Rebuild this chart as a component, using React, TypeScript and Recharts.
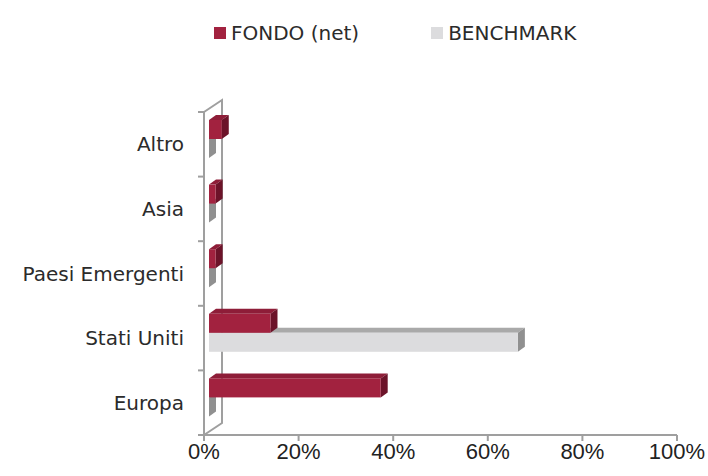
import { Bar, BarChart, XAxis, YAxis, usePlotArea } from 'recharts';

const regions = ['Altro', 'Asia', 'Paesi Emergenti', 'Stati Uniti', 'Europa'];
const fondo = [2.7, 1.4, 1.4, 13.0, 36.3];
const benchmark = [0, 0, 0, 65.3, 0];
const xTicks = [0, 20, 40, 60, 80, 100];
const seriesNames = ['FONDO (net)', 'BENCHMARK'];

const data = regions.map((region, i) => ({
  region,
  fondo: fondo[i],
  benchmark: benchmark[i],
}));

const AXIS = '#9F9F9F';
const LABEL_FONT = '"DejaVu Sans", sans-serif';
const TICK_FONT = '"Liberation Sans Narrow", "Liberation Sans", Arial, sans-serif';

// 3d look: front face pushed into the wall, extrusion towards the back
const FRONT = { dx: 5, dy: -5 };
const DEPTH = { dx: 7, dy: -5 };
const WALL = { dx: 18, dy: -12 };

const palettes = {
  fondo: { front: '#A2223F', top: '#8E1D38', side: '#6C1329' },
  benchmark: { front: '#DCDCDE', top: '#A9A9A9', side: '#909090' },
};

const makeBox = (pal: { front: string; top: string; side: string }) => (props: any) => {
  const { x, y, width, height } = props;
  if (x == null || y == null) return null;
  const x0 = x + FRONT.dx;
  const x1 = x0 + Math.max(width, 0);
  const yT = y + FRONT.dy;
  const yB = yT + height;
  const top = `${x0},${yT} ${x1},${yT} ${x1 + DEPTH.dx},${yT + DEPTH.dy} ${x0 + DEPTH.dx},${yT + DEPTH.dy}`;
  const side = `${x1},${yT} ${x1 + DEPTH.dx},${yT + DEPTH.dy} ${x1 + DEPTH.dx},${yB + DEPTH.dy} ${x1},${yB}`;
  return (
    <g>
      <polygon points={top} fill={pal.top} />
      <polygon points={side} fill={pal.side} />
      {width > 0 && <rect x={x0} y={yT} width={width} height={height} fill={pal.front} />}
    </g>
  );
};

const Wall = () => {
  const area = usePlotArea();
  if (!area) return null;
  const { x, y, height } = area;
  const d = `M${x},${y} L${x + WALL.dx},${y + WALL.dy} L${x + WALL.dx},${y + height + WALL.dy} L${x},${y + height}`;
  return <path d={d} fill='none' stroke={AXIS} strokeWidth={2} />;
};

const CategoryTick = (props: any) => {
  const { x, y, payload, index } = props;
  const half = payload?.offset ?? 32.3;
  const ax = x + 20;
  return (
    <g>
      <line x1={ax - 6} x2={ax} y1={y - half} y2={y - half} stroke={AXIS} strokeWidth={2} />
      {index === regions.length - 1 && (
        <line x1={ax - 6} x2={ax} y1={y + half} y2={y + half} stroke={AXIS} strokeWidth={2} />
      )}
      <text
        x={x}
        y={y}
        textAnchor='end'
        dominantBaseline='central'
        fill='#2b2b2b'
        fontFamily={LABEL_FONT}
        fontSize={20}
      >
        {payload.value}
      </text>
    </g>
  );
};

const Legend3d = () => (
  <div
    style={{
      position: 'absolute',
      top: 20,
      left: 214,
      display: 'flex',
      gap: 72,
      fontFamily: LABEL_FONT,
      fontSize: 20,
      color: '#2b2b2b',
      lineHeight: '26px',
    }}
  >
    {seriesNames.map((name, i) => (
      <div key={name} style={{ display: 'flex', alignItems: 'center', gap: 5 }}>
        <span
          style={{
            width: 12,
            height: 12,
            background: i === 0 ? palettes.fondo.front : palettes.benchmark.front,
            display: 'inline-block',
          }}
        />
        <span>{name}</span>
      </div>
    ))}
  </div>
);

export default function App() {
  return (
    <div style={{ position: 'absolute', left: 0, top: 0, width: 708, height: 476, background: '#fff' }}>
      <Legend3d />
      <BarChart
        width={708}
        height={476}
        data={data}
        layout='vertical'
        margin={{ top: 112, right: 31, bottom: 11, left: 0 }}
        barGap={0}
        barSize={19}
      >
        <XAxis
          type='number'
          domain={[0, 100]}
          ticks={xTicks}
          tickFormatter={(v: number) => `${v}%`}
          axisLine={{ stroke: AXIS, strokeWidth: 2 }}
          tickLine={{ stroke: AXIS, strokeWidth: 2 }}
          tickSize={6}
          tick={{ fill: '#222', fontSize: 22, fontFamily: TICK_FONT }}
          height={30}
        />
        <YAxis
          type='category'
          dataKey='region'
          width={204}
          axisLine={{ stroke: AXIS, strokeWidth: 2 }}
          tickLine={false}
          tickSize={0}
          tickMargin={20}
          tick={<CategoryTick />}
          interval={0}
        />
        <Wall />
        {/* placeholder keeps FONDO in the upper slot; real FONDO bar drawn last so it sits over the benchmark extrusion */}
        <Bar dataKey={() => 0} stackId='f' shape={() => null} isAnimationActive={false} />
        <Bar dataKey='benchmark' shape={makeBox(palettes.benchmark)} isAnimationActive={false} />
        <Bar dataKey='fondo' stackId='f' shape={makeBox(palettes.fondo)} isAnimationActive={false} />
      </BarChart>
    </div>
  );
}
